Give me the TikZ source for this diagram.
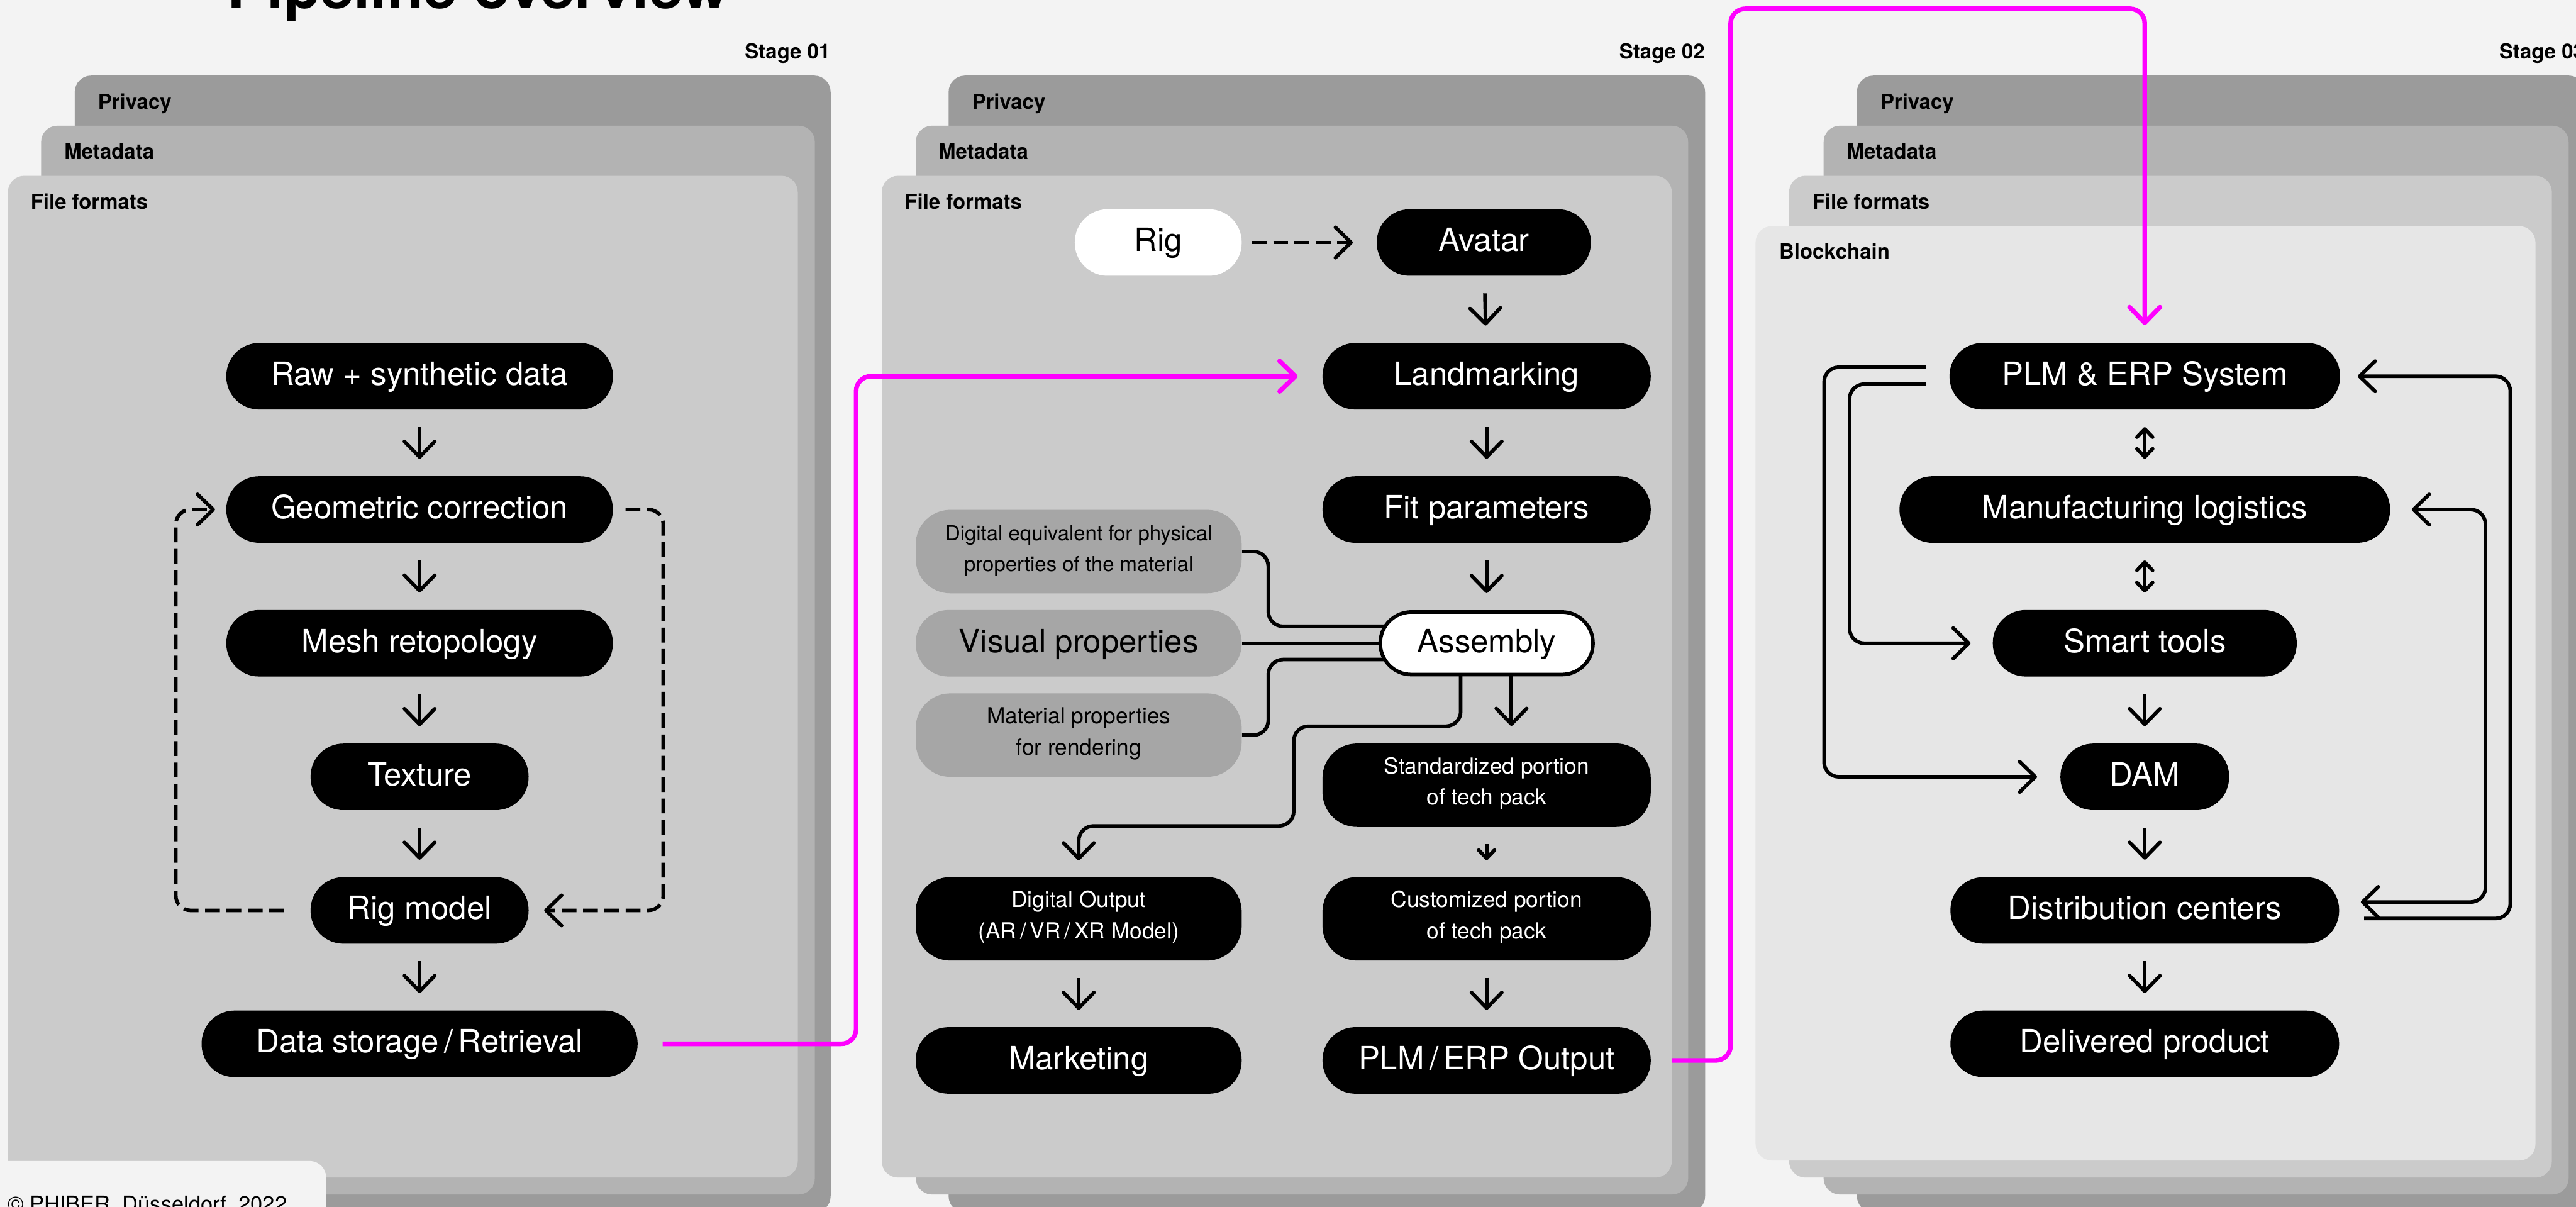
\documentclass[tikz,border=0pt]{standalone}
\usepackage{fontspec}
\setmainfont{TeX Gyre Heros}
\usetikzlibrary{arrows.meta}

\definecolor{pagebg}{HTML}{F3F3F3}
\definecolor{privc}{HTML}{9B9B9B}
\definecolor{metac}{HTML}{B3B3B3}
\definecolor{filec}{HTML}{CBCBCB}
\definecolor{chainc}{HTML}{E6E6E6}
\definecolor{propc}{HTML}{A6A6A6}
\definecolor{linkc}{HTML}{FF00FF}

\newcommand\pfL{\fontsize{19.5}{23.4}\selectfont}
\newcommand\pfS{\fontsize{13.5}{19}\selectfont}
\newcommand\pfXS{\fontsize{12.6}{18.8}\selectfont}
\newcommand\pfTag{\bfseries\fontsize{12.6}{15}\selectfont}
\newcommand\pfHead{\bfseries\fontsize{36.5}{40}\selectfont}
\newcommand\pfNote{\fontsize{13.2}{16}\selectfont}

\pgfdeclarelayer{panels}
\pgfdeclarelayer{links}
\pgfsetlayers{panels,links,main}

\tikzset{
  panel/.style={rounded corners=10pt},
  tag/.style={font=\pfTag, anchor=base west, inner sep=0pt},
  pill/.style={rectangle, rounded corners=20pt, fill=black, text=white,
    inner sep=0pt, minimum height=40.5pt, font=\pfL,
    text height=14.5pt, text depth=3.5pt},
  pilltwo/.style={pill, rounded corners=21pt, minimum height=50.8pt,
    font=\pfS, align=center, text height=28.7pt, text depth=4.7pt},
  propbox/.style={fill=propc, text=black},
  rigbox/.style={fill=white, text=black},
  asmbox/.style={fill=white, text=black, draw=black, line width=2.2pt,
    rounded corners=19pt, minimum height=38.1pt},
  bigtip/.tip={Straight Barb[length=9.5pt,width=18.5pt,round]},
  smalltip/.tip={Straight Barb[length=5pt,width=9.6pt,round]},
  flow/.style={line width=2.2pt, rounded corners=9pt, -bigtip},
  twoway/.style={line width=2.2pt, rounded corners=9pt, bigtip-bigtip},
  minor/.style={line width=2.2pt, -smalltip},
  minorboth/.style={line width=2.2pt, smalltip-smalltip},
  link/.style={line width=2.2pt, rounded corners=9pt},
  loopline/.style={line width=2.2pt, dash pattern=on 9pt off 4pt,
    rounded corners=9pt, -bigtip},
  mag/.style={draw=linkc, line width=2.8pt, rounded corners=9pt,
    -{Straight Barb[length=9.5pt,width=18.5pt,round,color=linkc]}},
}

\begin{document}
\begin{tikzpicture}[x=1pt,y=-1pt]
\useasboundingbox (0,0) rectangle (1568,734.6);

% ---------- stacked layer panels ----------
\begin{pgfonlayer}{panels}
  \fill[pagebg] (0,0) rectangle (1568,734.6);
  % stage 01
  \fill[panel,privc] (45.5,46) rectangle (505.6,738);
  \fill[panel,metac] (25,76.5) rectangle (496,727);
  \fill[panel,filec] (4.8,107) rectangle (485.6,716.7);
  % stage 02
  \fill[panel,privc] (577.4,46) rectangle (1037.9,738);
  \fill[panel,metac] (557.4,76.5) rectangle (1027.6,727);
  \fill[panel,filec] (536.7,107) rectangle (1017.6,716.7);
  % stage 03
  \fill[panel,privc] (1130.3,46) rectangle (1573.5,738);
  \fill[panel,metac] (1110,76.5) rectangle (1563.5,727);
  \fill[panel,filec] (1089,107) rectangle (1553.3,716.7);
  \fill[panel,chainc] (1068.6,137.6) rectangle (1543.3,706.3);
  % credit tab
  \fill[panel,pagebg] (-12,706.6) rectangle (198.5,760);
\end{pgfonlayer}

% ---------- headings and layer names ----------
\node[font=\pfHead, anchor=base west, inner sep=0pt] (title) at (138,5.3) {Pipeline overview};
\node[font=\pfNote, anchor=base west, inner sep=0pt] (credit) at (4.5,737.3) {© PHIBER, Düsseldorf, 2022};

\node[tag, anchor=base east] (st1) at (505.6,35.6) {Stage 01};
\node[tag, anchor=base east] (st2) at (1037.9,35.6) {Stage 02};
\node[tag, anchor=base east] (st3) at (1573.5,35.6) {Stage 03};

\node[tag] (p1) at (59.5,66.4) {Privacy};
\node[tag] (m1) at (39,96.7) {Metadata};
\node[tag] (f1) at (18.5,127.2) {File formats};
\node[tag] (p2) at (591.5,66.4) {Privacy};
\node[tag] (m2) at (571,96.7) {Metadata};
\node[tag] (f2) at (550.5,127.2) {File formats};
\node[tag] (p3) at (1144.4,66.4) {Privacy};
\node[tag] (m3) at (1124,96.7) {Metadata};
\node[tag] (f3) at (1103,127.2) {File formats};
\node[tag] (b3) at (1082.8,157.5) {Blockchain};

% ---------- stage 01 ----------
\node[pill, minimum width=235.3pt] (raw)   at (255.4,229)   {Raw + synthetic data};
\node[pill, minimum width=235.3pt] (geo)   at (255.4,310.1) {Geometric correction};
\node[pill, minimum width=235.3pt] (mesh)  at (255.4,391.5) {Mesh retopology};
\node[pill, minimum width=132.7pt] (tex)   at (255.4,472.8) {Texture};
\node[pill, minimum width=132.7pt] (rigm)  at (255.4,554.1) {Rig model};
\node[pill, minimum width=265.4pt] (store) at (255.4,635.3) {Data storage\,/\,Retrieval};

% ---------- stage 02 ----------
\node[pill, rigbox, minimum width=101.6pt] (rig)    at (705,147.6)   {Rig};
\node[pill, minimum width=130.3pt]         (avatar) at (903.2,147.6) {Avatar};
\node[pill, minimum width=199.8pt]         (land)   at (904.9,229)   {Landmarking};
\node[pill, minimum width=199.8pt]         (fit)    at (904.9,310.1) {Fit parameters};
\node[pill, asmbox, minimum width=129.5pt] (asm)    at (904.9,391.5) {Assembly};
\node[pilltwo, propbox, minimum width=198.4pt, font=\pfXS] (g1) at (656.6,335.7)
  {Digital equivalent for physical\\properties of the material};
\node[pill, propbox, minimum width=198.4pt] (g2) at (656.6,391.5) {Visual properties};
\node[pilltwo, propbox, minimum width=198.4pt] (g3) at (656.6,447.4)
  {Material properties\\for rendering};
\node[pilltwo, minimum width=199.8pt] (std)  at (904.9,477.9) {Standardized portion\\of tech pack};
\node[pilltwo, minimum width=199.8pt] (cust) at (904.9,559.2) {Customized portion\\of tech pack};
\node[pilltwo, minimum width=198.4pt] (dig)  at (656.6,559.2) {Digital Output\\(AR\,/\,VR\,/\,XR Model)};
\node[pill, minimum width=198.4pt]    (mkt)  at (656.6,645.4) {Marketing};
\node[pill, minimum width=199.8pt]    (plmout) at (904.9,645.4) {PLM\,/\,ERP Output};

% ---------- stage 03 ----------
\node[pill, minimum width=237.7pt] (plm)   at (1305.5,229)   {PLM \& ERP System};
\node[pill, minimum width=298.6pt] (manu)  at (1305.5,310.1) {Manufacturing logistics};
\node[pill, minimum width=185pt]   (smart) at (1305.5,391.5) {Smart tools};
\node[pill, minimum width=102.7pt] (dam)   at (1305.5,472.8) {DAM};
\node[pill, minimum width=236.6pt] (dist)  at (1305.5,554.1) {Distribution centers};
\node[pill, minimum width=236.6pt] (deliv) at (1305.5,635.3) {Delivered product};

% ---------- routing columns and rows ----------
\coordinate (loopR) at (403.7,0);
\coordinate (loopL) at (107,0);
\coordinate (colA)  at (772,0);
\coordinate (colB)  at (787.5,0);
\coordinate (rowA)  at (0,442);
\coordinate (rowB)  at (0,502.7);
\coordinate (m1col) at (521.1,0);
\coordinate (m2col) at (1053.4,0);
\coordinate (m2row) at (0,5.3);
\coordinate (colLo) at (1110.3,0);
\coordinate (colLi) at (1125.8,0);
\coordinate (colRo) at (1528,0);
\coordinate (colRi) at (1512.9,0);

\coordinate (asmT)   at ([yshift=10.3pt]asm.center);
\coordinate (asmB)   at ([yshift=-9.9pt]asm.center);
\coordinate (asmOut) at ([xshift=-15.8pt]asm.center);
\coordinate (plmLo)  at ([xshift=-14pt,yshift=5.5pt]plm.west);
\coordinate (plmLi)  at ([xshift=-14pt,yshift=-4.8pt]plm.west);
\coordinate (distRo) at ([xshift=15pt,yshift=-4.9pt]dist.east);
\coordinate (distRi) at ([xshift=13pt,yshift=5.1pt]dist.east);
\coordinate (manuR)  at ([xshift=13pt]manu.east);

% ---------- connectors ----------
\begin{pgfonlayer}{links}
  % stage 01 chain
  \draw[flow, shorten <=10.5pt, shorten >=10.4pt] (raw) -- (geo);
  \draw[flow, shorten <=10.5pt, shorten >=10.4pt] (geo) -- (mesh);
  \draw[flow, shorten <=10.5pt, shorten >=10.4pt] (mesh) -- (tex);
  \draw[flow, shorten <=10.5pt, shorten >=10.4pt] (tex) -- (rigm);
  \draw[flow, shorten <=10.5pt, shorten >=10.4pt] (rigm) -- (store);
  % feedback loop around the refinement steps
  \draw[loopline] ([xshift=7.5pt]geo.east) -- (geo.east -| loopR)
    -- (rigm.east -| loopR) -- ([xshift=9.3pt]rigm.east);
  \draw[loopline] ([xshift=-16pt]rigm.west) -- (rigm.west -| loopL)
    -- (geo.west -| loopL) -- ([xshift=-6.7pt]geo.west);

  % stage 02 chain
  \draw[loopline, shorten <=6pt, shorten >=14.4pt] (rig) -- (avatar);
  \draw[flow, shorten <=10.5pt, shorten >=10.4pt] (avatar) -- (land);
  \draw[flow, shorten <=10.5pt, shorten >=10.4pt] (land) -- (fit);
  \draw[flow, shorten <=10.5pt, shorten >=10.4pt] (fit) -- (asm);
  \draw[link] (g1.east) -- (g1.east -| colA) -- (colA |- asmT) -- (asmT);
  \draw[link] (g2.east) -- (asm.center);
  \draw[link] (g3.east) -- (g3.east -| colA) -- (colA |- asmB) -- (asmB);
  \draw[flow, shorten >=10.5pt] ([xshift=15.1pt]asm.center) -- ([xshift=15.1pt]std.north);
  \draw[flow] (asmOut) -- (asmOut |- rowA) -- (colB |- rowA) -- (colB |- rowB)
    -- (dig.north |- rowB) -- ([yshift=10pt]dig.north);
  \draw[minor, shorten <=10.3pt, shorten >=10.1pt] (std) -- (cust);
  \draw[flow, shorten <=10.3pt, shorten >=10.3pt] (cust) -- (plmout);
  \draw[flow, shorten <=10.3pt, shorten >=10.3pt] (dig) -- (mkt);

  % hand-over between stages
  \draw[mag] ([xshift=15pt]store.east) -- (store.east -| m1col)
    -- (land.west -| m1col) -- ([xshift=-15pt]land.west);
  \draw[mag] ([xshift=12.8pt]plmout.east) -- (plmout.east -| m2col)
    -- (m2col |- m2row) -- (plm.north |- m2row) -- ([yshift=10.7pt]plm.north);

  % stage 03 chain
  \draw[minorboth, shorten <=10.5pt, shorten >=10.4pt] (plm) -- (manu);
  \draw[minorboth, shorten <=10.5pt, shorten >=10.4pt] (manu) -- (smart);
  \draw[flow, shorten <=10.5pt, shorten >=10.4pt] (smart) -- (dam);
  \draw[flow, shorten <=10.5pt, shorten >=10.4pt] (dam) -- (dist);
  \draw[flow, shorten <=10.5pt, shorten >=10.4pt] (dist) -- (deliv);
  % side loops
  \draw[flow] (plmLo) -- (plmLo -| colLo) -- (dam.west -| colLo) -- ([xshift=-14pt]dam.west);
  \draw[flow] (plmLi) -- (plmLi -| colLi) -- (smart.west -| colLi) -- ([xshift=-13.3pt]smart.west);
  \draw[flow] (distRo) -- (distRo -| colRo) -- (plm.east -| colRo) -- ([xshift=10.6pt]plm.east);
  \draw[twoway] (manuR) -- (manuR -| colRi) -- (distRi -| colRi) -- (distRi);
\end{pgfonlayer}
\end{tikzpicture}
\end{document}
